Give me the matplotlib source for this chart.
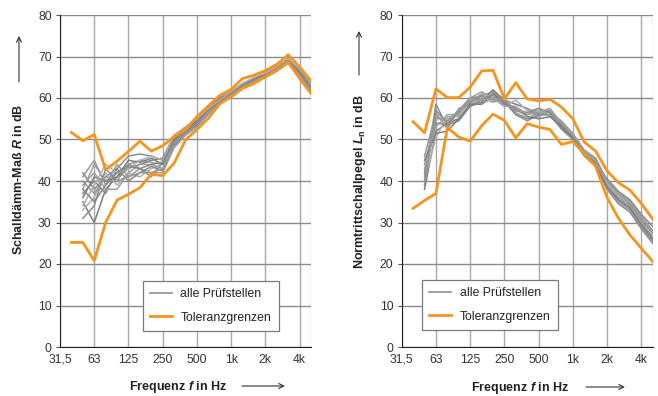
import numpy as np
import matplotlib
matplotlib.use("Agg")
import matplotlib.pyplot as plt
from matplotlib.lines import Line2D
from matplotlib.patches import FancyArrowPatch

plt.rcParams['font.family'] = ['Liberation Sans', 'DejaVu Sans']
plt.rcParams['mathtext.fontset'] = 'custom'
plt.rcParams['mathtext.it'] = 'Liberation Sans:italic:bold'
plt.rcParams['mathtext.rm'] = 'Liberation Sans:bold'

# ---------------- data ----------------
# third-octave bands 31,5 Hz ... 5000 Hz (index 0..22)
bands = ['31,5', '40', '50', '63', '80', '100', '125', '160', '200', '250', '315', '400',
         '500', '630', '800', '1k', '1,25k', '1,6k', '2k', '2,5k', '3,15k', '4k', '5k']
tick_idx = [0, 3, 6, 9, 12, 15, 18, 21]
tick_labels = ['31,5', '63', '125', '250', '500', '1k', '2k', '4k']

# Schalldaemm-Mass R, tolerance limits from 40 Hz (index 1)
R_upper = [51.7, 49.7, 51.2, 42.7, 44.8, 47.1, 49.6, 47.2, 48.5, 50.7, 52.4, 55.5,
           58.1, 60.6, 62.1, 64.7, 65.5, 66.6, 68.1, 70.4, 67.5, 64.1]
R_lower = [25.2, 25.2, 20.8, 30.0, 35.4, 36.8, 38.4, 41.6, 41.3, 44.3, 49.9, 52.4,
           55.1, 58.6, 60.3, 62.3, 63.5, 65.1, 66.7, 68.6, 64.7, 61.1]
# all test labs, from 50 Hz (index 2)
R_labs = [
    [42, 38, 41, 43, 46, 46.5, 46, 45, 50, 52.5, 54.5, 57.5, 59.5, 61.5, 63.5, 64.5, 66, 67.5, 69.5, 66.5, 63.5],
    [38, 44, 40, 42, 44, 45, 44.5, 44, 49.5, 52, 54, 57, 59, 61, 63, 64.5, 65.5, 67, 69, 66, 62.5],
    [35, 30, 38, 41, 43, 44, 45, 45.5, 51, 53, 55, 57.5, 60, 61.5, 63, 64, 65.5, 67, 69, 65.5, 62],
    [41, 45, 39, 44, 41, 43, 42, 43, 49, 51.5, 53.5, 56.5, 59, 61, 62.5, 64, 65.5, 66.5, 68.5, 65.5, 62],
    [33, 36, 42, 39, 42, 41, 43, 44, 50, 52, 54, 57, 59, 61, 63, 64, 65.5, 67, 69, 66, 63],
    [37, 40, 37, 43, 40, 42, 43.5, 42.5, 48.5, 51.5, 53.5, 56.5, 58.5, 60.5, 62.5, 64, 65, 66.5, 68.5, 65, 61.5],
    [31, 34, 43, 40, 44, 43, 41, 44.5, 50.5, 52.5, 54.5, 57, 59.5, 61.5, 63.5, 64.5, 66, 67.5, 69.5, 66.5, 63],
    [39, 42, 38, 38, 42, 44, 44, 43, 49, 52, 54, 56.5, 59, 61, 62.5, 63.5, 65, 66.5, 68.5, 65.5, 62.5],
    [36, 41, 40, 41, 45, 44.5, 45.5, 44, 50, 52.5, 54.5, 57.5, 59.5, 61.5, 63, 64.5, 66, 67.5, 69.5, 66.5, 64],
    [40, 37, 41, 40, 41, 42, 42, 42, 48, 51, 53, 56, 58.5, 60.5, 62.5, 64, 65, 66.5, 68.5, 65, 62],
    [34, 39, 44, 42, 43, 45, 46, 45, 51, 53, 55, 57.5, 59.5, 61.5, 63.5, 65, 66, 67.5, 69.5, 67, 63.5],
    [38, 35, 39, 42, 43.5, 43, 44, 44.5, 49.5, 52, 54, 57, 59, 61, 63, 64.5, 65.5, 67, 69, 66, 62.5],
]

# Normtrittschallpegel Ln, tolerance limits from 40 Hz (index 1)
L_upper = [54.3, 51.6, 62.2, 60.1, 60.1, 62.6, 66.5, 66.7, 59.8, 63.7, 59.8, 59.3,
           59.7, 57.8, 55.0, 49.4, 47.2, 42.4, 39.6, 37.8, 34.6, 30.8]
L_lower = [33.4, 35.3, 37.0, 52.9, 50.6, 49.6, 53.3, 56.1, 54.6, 50.4, 53.8, 53.0,
           52.4, 48.8, 49.5, 46.6, 43.5, 36.0, 31.0, 27.0, 23.8, 20.6]
L_labs = [
    [41, 58.5, 53, 57, 60, 60.5, 61.5, 59, 56, 55, 56.5, 57, 54, 51, 47, 45, 39.5, 36.5, 34.5, 30.5, 27.5],
    [44, 55, 55, 56, 59, 61, 60.5, 58.5, 57, 56, 57, 56.5, 54.5, 51.5, 47.5, 45.5, 40, 37, 35, 31, 28],
    [38, 52, 54, 55, 58, 59, 62, 59.5, 58.5, 57.5, 56, 56, 53.5, 50.5, 46.5, 44.5, 39, 35.5, 33.5, 29.5, 26],
    [46, 56.5, 52.5, 57.5, 58.5, 60, 59, 60, 56.5, 55, 55.5, 57, 53, 50, 46.5, 44, 38.5, 35, 33, 29, 25.5],
    [40, 50.5, 55.5, 55.5, 59.5, 58.5, 60, 58, 59.5, 57, 57, 55.5, 54, 51, 47, 45, 39.5, 36.5, 34, 30, 27],
    [42, 54, 53.5, 54.5, 58, 59.5, 61, 58.5, 57, 56.5, 57.5, 56.5, 53.5, 50.5, 46.5, 44.5, 40.5, 37.5, 35.5, 32, 29],
    [39, 57, 54, 56.5, 59, 60.5, 59.5, 59.5, 56, 54.5, 56, 56, 52.5, 50, 46, 43.5, 38, 34.5, 32.5, 28.5, 25],
    [43, 53, 56, 56, 60, 61.5, 60, 58, 58, 56, 56.5, 57.5, 54, 51, 47, 45, 39, 36, 34, 30, 26.5],
    [45, 51.5, 52, 55, 58.5, 58.5, 61, 59, 57.5, 55.5, 55, 55.5, 53, 50.5, 46.5, 44, 38.5, 35.5, 33.5, 29.5, 26],
    [40, 55.5, 54.5, 57, 59.5, 59.5, 60, 59.5, 57, 56.5, 56.5, 56, 54, 51, 47, 45.5, 40, 37, 35, 31.5, 28],
]

ORANGE = '#F7941D'
GRAYS = ['#8c8c8c', '#a0a0a0', '#7f7f7f', '#999999', '#b0b0b0', '#888888']

W, H = 658, 396
fig = plt.figure(figsize=(W / 100, H / 100), dpi=100)


def px(x, y):
    # pixel (top-left origin) -> figure fraction
    return x / W, 1 - y / H


def panel(left_px, right_px, upper, lower, labs, leg_xy):
    x0, _ = px(left_px, 0)
    x1, _ = px(right_px, 0)
    _, yb = px(0, 347)
    _, yt = px(0, 15)
    ax = fig.add_axes([x0, yb, x1 - x0, yt - yb])
    idx = np.arange(len(bands))

    for i, s in enumerate(labs):
        ax.plot(idx[2:], s, color=GRAYS[i % len(GRAYS)], lw=1.1, zorder=3)
    ax.plot(idx[1:], upper, color=ORANGE, lw=2.0, zorder=4)
    ax.plot(idx[1:], lower, color=ORANGE, lw=2.0, zorder=4)

    ax.set_xlim(0, 22)
    ax.set_ylim(0, 80)
    ax.set_xticks(tick_idx)
    ax.set_xticklabels(tick_labels, fontsize=8.8, color='#333333')
    ax.set_yticks(range(0, 81, 10))
    ax.tick_params(axis='y', labelsize=8.8, length=3, color='#555555', labelcolor='#333333', pad=3)
    ax.tick_params(axis='x', length=0, pad=5)
    ax.grid(axis='x', color='#a8a8a8', lw=1.0, zorder=1)
    ax.grid(axis='y', color='#8a8a8a', lw=1.0, zorder=1)
    ax.axvline(22, color='#c8c8c8', lw=1.0, zorder=1)
    for sp in ['top', 'right']:
        ax.spines[sp].set_visible(False)
    ax.spines['left'].set_color('#222222')
    ax.spines['bottom'].set_color('#222222')

    handles = [Line2D([], [], color='#999999', lw=1.3),
               Line2D([], [], color=ORANGE, lw=2.0)]
    leg = ax.legend(handles, ['alle Prüfstellen', 'Toleranzgrenzen'], loc='lower left',
                    bbox_to_anchor=leg_xy, borderaxespad=0, fontsize=8.8,
                    handlelength=1.8, labelspacing=0.95, handletextpad=0.7,
                    borderpad=0.6, fancybox=False, framealpha=1)
    leg.get_frame().set_edgecolor('#7a7a7a')
    leg.get_frame().set_linewidth(0.9)
    for t in leg.get_texts():
        t.set_color('#222222')
    return ax


panel(60, 311, R_upper, R_lower, R_labs, (0.329, 0.048))
panel(401.7, 652.7, L_upper, L_lower, L_labs, (0.08, 0.051))

lab_kw = dict(fontsize=9, fontweight='bold', color='#222222', ha='center', va='center')
fig.text(*px(19, 179), r'Schalldämm-Maß $R$ in dB', rotation=90, **lab_kw)
fig.text(*px(360, 182), r'Normtrittschallpegel $L_\mathrm{n}$ in dB', rotation=90, **lab_kw)
fig.text(*px(178, 387), r'Frequenz $f$ in Hz', **lab_kw)
fig.text(*px(520, 388), r'Frequenz $f$ in Hz', **lab_kw)

# axis direction arrows
for start, end in [((19, 82), (19, 36)), ((359, 75), (359, 31)),
                   ((242, 386), (285, 386)), ((586, 387), (625, 387))]:
    fig.add_artist(FancyArrowPatch(px(*start), px(*end), transform=fig.transFigure,
                                   arrowstyle='->', mutation_scale=9, color='#333333',
                                   lw=0.8, shrinkA=0, shrinkB=0))

fig.savefig('out.png', dpi=100)
